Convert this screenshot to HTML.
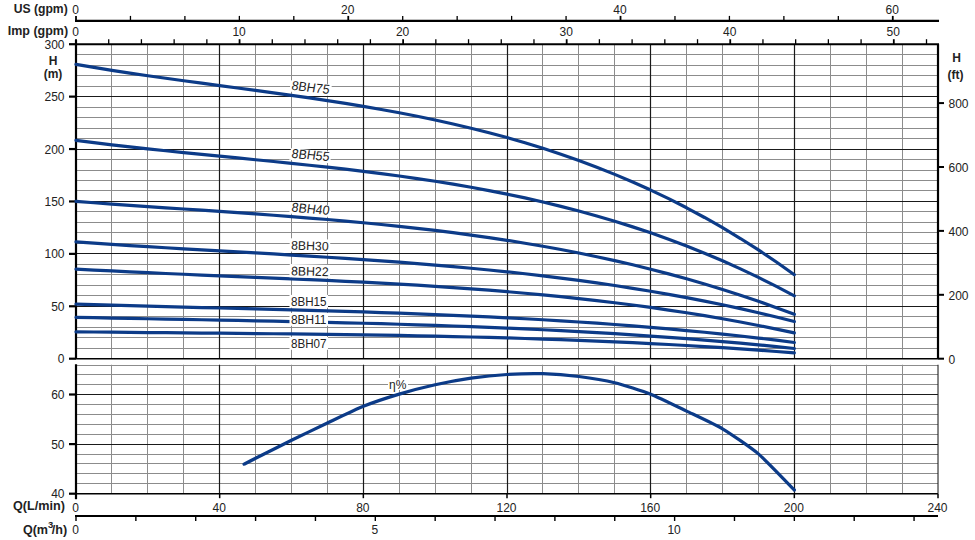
<!DOCTYPE html>
<html><head><meta charset="utf-8"><style>
html,body{margin:0;padding:0;background:#fff;width:975px;height:540px;overflow:hidden}
svg{display:block;font-family:"Liberation Sans", sans-serif}
</style></head><body>
<svg width="975" height="540" viewBox="0 0 975 540">
<rect width="975" height="540" fill="#fff"/>
<line x1="76.0" y1="348.5" x2="938.01" y2="348.5" stroke="#8c8c8c" stroke-width="1"/>
<line x1="76.0" y1="337.5" x2="938.01" y2="337.5" stroke="#8c8c8c" stroke-width="1"/>
<line x1="76.0" y1="327.5" x2="938.01" y2="327.5" stroke="#8c8c8c" stroke-width="1"/>
<line x1="76.0" y1="316.5" x2="938.01" y2="316.5" stroke="#8c8c8c" stroke-width="1"/>
<line x1="76.0" y1="295.5" x2="938.01" y2="295.5" stroke="#8c8c8c" stroke-width="1"/>
<line x1="76.0" y1="285.5" x2="938.01" y2="285.5" stroke="#8c8c8c" stroke-width="1"/>
<line x1="76.0" y1="274.5" x2="938.01" y2="274.5" stroke="#8c8c8c" stroke-width="1"/>
<line x1="76.0" y1="264.5" x2="938.01" y2="264.5" stroke="#8c8c8c" stroke-width="1"/>
<line x1="76.0" y1="243.5" x2="938.01" y2="243.5" stroke="#8c8c8c" stroke-width="1"/>
<line x1="76.0" y1="232.5" x2="938.01" y2="232.5" stroke="#8c8c8c" stroke-width="1"/>
<line x1="76.0" y1="222.5" x2="938.01" y2="222.5" stroke="#8c8c8c" stroke-width="1"/>
<line x1="76.0" y1="211.5" x2="938.01" y2="211.5" stroke="#8c8c8c" stroke-width="1"/>
<line x1="76.0" y1="190.5" x2="938.01" y2="190.5" stroke="#8c8c8c" stroke-width="1"/>
<line x1="76.0" y1="180.5" x2="938.01" y2="180.5" stroke="#8c8c8c" stroke-width="1"/>
<line x1="76.0" y1="170.5" x2="938.01" y2="170.5" stroke="#8c8c8c" stroke-width="1"/>
<line x1="76.0" y1="159.5" x2="938.01" y2="159.5" stroke="#8c8c8c" stroke-width="1"/>
<line x1="76.0" y1="138.5" x2="938.01" y2="138.5" stroke="#8c8c8c" stroke-width="1"/>
<line x1="76.0" y1="128.5" x2="938.01" y2="128.5" stroke="#8c8c8c" stroke-width="1"/>
<line x1="76.0" y1="117.5" x2="938.01" y2="117.5" stroke="#8c8c8c" stroke-width="1"/>
<line x1="76.0" y1="107.5" x2="938.01" y2="107.5" stroke="#8c8c8c" stroke-width="1"/>
<line x1="76.0" y1="86.5" x2="938.01" y2="86.5" stroke="#8c8c8c" stroke-width="1"/>
<line x1="76.0" y1="75.5" x2="938.01" y2="75.5" stroke="#8c8c8c" stroke-width="1"/>
<line x1="76.0" y1="65.5" x2="938.01" y2="65.5" stroke="#8c8c8c" stroke-width="1"/>
<line x1="76.0" y1="54.5" x2="938.01" y2="54.5" stroke="#8c8c8c" stroke-width="1"/>
<line x1="111.5" y1="44.21" x2="111.5" y2="358.7" stroke="#8c8c8c" stroke-width="1"/>
<line x1="111.5" y1="364.74" x2="111.5" y2="493.7" stroke="#8c8c8c" stroke-width="1"/>
<line x1="147.5" y1="44.21" x2="147.5" y2="358.7" stroke="#8c8c8c" stroke-width="1"/>
<line x1="147.5" y1="364.74" x2="147.5" y2="493.7" stroke="#8c8c8c" stroke-width="1"/>
<line x1="183.5" y1="44.21" x2="183.5" y2="358.7" stroke="#8c8c8c" stroke-width="1"/>
<line x1="183.5" y1="364.74" x2="183.5" y2="493.7" stroke="#8c8c8c" stroke-width="1"/>
<line x1="255.5" y1="44.21" x2="255.5" y2="358.7" stroke="#8c8c8c" stroke-width="1"/>
<line x1="255.5" y1="364.74" x2="255.5" y2="493.7" stroke="#8c8c8c" stroke-width="1"/>
<line x1="291.5" y1="44.21" x2="291.5" y2="358.7" stroke="#8c8c8c" stroke-width="1"/>
<line x1="291.5" y1="364.74" x2="291.5" y2="493.7" stroke="#8c8c8c" stroke-width="1"/>
<line x1="327.5" y1="44.21" x2="327.5" y2="358.7" stroke="#8c8c8c" stroke-width="1"/>
<line x1="327.5" y1="364.74" x2="327.5" y2="493.7" stroke="#8c8c8c" stroke-width="1"/>
<line x1="399.5" y1="44.21" x2="399.5" y2="358.7" stroke="#8c8c8c" stroke-width="1"/>
<line x1="399.5" y1="364.74" x2="399.5" y2="493.7" stroke="#8c8c8c" stroke-width="1"/>
<line x1="435.5" y1="44.21" x2="435.5" y2="358.7" stroke="#8c8c8c" stroke-width="1"/>
<line x1="435.5" y1="364.74" x2="435.5" y2="493.7" stroke="#8c8c8c" stroke-width="1"/>
<line x1="471.5" y1="44.21" x2="471.5" y2="358.7" stroke="#8c8c8c" stroke-width="1"/>
<line x1="471.5" y1="364.74" x2="471.5" y2="493.7" stroke="#8c8c8c" stroke-width="1"/>
<line x1="542.5" y1="44.21" x2="542.5" y2="358.7" stroke="#8c8c8c" stroke-width="1"/>
<line x1="542.5" y1="364.74" x2="542.5" y2="493.7" stroke="#8c8c8c" stroke-width="1"/>
<line x1="578.5" y1="44.21" x2="578.5" y2="358.7" stroke="#8c8c8c" stroke-width="1"/>
<line x1="578.5" y1="364.74" x2="578.5" y2="493.7" stroke="#8c8c8c" stroke-width="1"/>
<line x1="614.5" y1="44.21" x2="614.5" y2="358.7" stroke="#8c8c8c" stroke-width="1"/>
<line x1="614.5" y1="364.74" x2="614.5" y2="493.7" stroke="#8c8c8c" stroke-width="1"/>
<line x1="686.5" y1="44.21" x2="686.5" y2="358.7" stroke="#8c8c8c" stroke-width="1"/>
<line x1="686.5" y1="364.74" x2="686.5" y2="493.7" stroke="#8c8c8c" stroke-width="1"/>
<line x1="722.5" y1="44.21" x2="722.5" y2="358.7" stroke="#8c8c8c" stroke-width="1"/>
<line x1="722.5" y1="364.74" x2="722.5" y2="493.7" stroke="#8c8c8c" stroke-width="1"/>
<line x1="758.5" y1="44.21" x2="758.5" y2="358.7" stroke="#8c8c8c" stroke-width="1"/>
<line x1="758.5" y1="364.74" x2="758.5" y2="493.7" stroke="#8c8c8c" stroke-width="1"/>
<line x1="830.5" y1="44.21" x2="830.5" y2="358.7" stroke="#8c8c8c" stroke-width="1"/>
<line x1="830.5" y1="364.74" x2="830.5" y2="493.7" stroke="#8c8c8c" stroke-width="1"/>
<line x1="866.5" y1="44.21" x2="866.5" y2="358.7" stroke="#8c8c8c" stroke-width="1"/>
<line x1="866.5" y1="364.74" x2="866.5" y2="493.7" stroke="#8c8c8c" stroke-width="1"/>
<line x1="902.5" y1="44.21" x2="902.5" y2="358.7" stroke="#8c8c8c" stroke-width="1"/>
<line x1="902.5" y1="364.74" x2="902.5" y2="493.7" stroke="#8c8c8c" stroke-width="1"/>
<line x1="76.0" y1="483.5" x2="938.01" y2="483.5" stroke="#8c8c8c" stroke-width="1"/>
<line x1="76.0" y1="473.5" x2="938.01" y2="473.5" stroke="#8c8c8c" stroke-width="1"/>
<line x1="76.0" y1="463.5" x2="938.01" y2="463.5" stroke="#8c8c8c" stroke-width="1"/>
<line x1="76.0" y1="454.5" x2="938.01" y2="454.5" stroke="#8c8c8c" stroke-width="1"/>
<line x1="76.0" y1="434.5" x2="938.01" y2="434.5" stroke="#8c8c8c" stroke-width="1"/>
<line x1="76.0" y1="424.5" x2="938.01" y2="424.5" stroke="#8c8c8c" stroke-width="1"/>
<line x1="76.0" y1="414.5" x2="938.01" y2="414.5" stroke="#8c8c8c" stroke-width="1"/>
<line x1="76.0" y1="404.5" x2="938.01" y2="404.5" stroke="#8c8c8c" stroke-width="1"/>
<line x1="76.0" y1="384.5" x2="938.01" y2="384.5" stroke="#8c8c8c" stroke-width="1"/>
<line x1="76.0" y1="374.5" x2="938.01" y2="374.5" stroke="#8c8c8c" stroke-width="1"/>
<line x1="76.0" y1="365.5" x2="938.01" y2="365.5" stroke="#8c8c8c" stroke-width="1"/>
<line x1="76.0" y1="306.5" x2="938.01" y2="306.5" stroke="#1a1a1a" stroke-width="1.2"/>
<line x1="76.0" y1="253.5" x2="938.01" y2="253.5" stroke="#1a1a1a" stroke-width="1.2"/>
<line x1="76.0" y1="201.5" x2="938.01" y2="201.5" stroke="#1a1a1a" stroke-width="1.2"/>
<line x1="76.0" y1="149.5" x2="938.01" y2="149.5" stroke="#1a1a1a" stroke-width="1.2"/>
<line x1="76.0" y1="96.5" x2="938.01" y2="96.5" stroke="#1a1a1a" stroke-width="1.2"/>
<line x1="219.5" y1="44.21" x2="219.5" y2="358.7" stroke="#1a1a1a" stroke-width="1.2"/>
<line x1="219.5" y1="364.74" x2="219.5" y2="493.7" stroke="#1a1a1a" stroke-width="1.2"/>
<line x1="363.5" y1="44.21" x2="363.5" y2="358.7" stroke="#1a1a1a" stroke-width="1.2"/>
<line x1="363.5" y1="364.74" x2="363.5" y2="493.7" stroke="#1a1a1a" stroke-width="1.2"/>
<line x1="507.5" y1="44.21" x2="507.5" y2="358.7" stroke="#1a1a1a" stroke-width="1.2"/>
<line x1="507.5" y1="364.74" x2="507.5" y2="493.7" stroke="#1a1a1a" stroke-width="1.2"/>
<line x1="650.5" y1="44.21" x2="650.5" y2="358.7" stroke="#1a1a1a" stroke-width="1.2"/>
<line x1="650.5" y1="364.74" x2="650.5" y2="493.7" stroke="#1a1a1a" stroke-width="1.2"/>
<line x1="794.5" y1="44.21" x2="794.5" y2="358.7" stroke="#1a1a1a" stroke-width="1.2"/>
<line x1="794.5" y1="364.74" x2="794.5" y2="493.7" stroke="#1a1a1a" stroke-width="1.2"/>
<line x1="76.0" y1="444.5" x2="938.01" y2="444.5" stroke="#1a1a1a" stroke-width="1.2"/>
<line x1="76.0" y1="394.5" x2="938.01" y2="394.5" stroke="#1a1a1a" stroke-width="1.2"/>
<line x1="76.0" y1="358.7" x2="938.01" y2="358.7" stroke="#000" stroke-width="1.6"/>
<line x1="76.0" y1="493.7" x2="938.01" y2="493.7" stroke="#000" stroke-width="1.6"/>
<line x1="938.01" y1="364.74" x2="938.01" y2="493.7" stroke="#222" stroke-width="1.1"/>
<line x1="76.0" y1="39.71" x2="76.0" y2="358.7" stroke="#000" stroke-width="2.2"/>
<line x1="938.01" y1="44.21" x2="938.01" y2="358.7" stroke="#000" stroke-width="2.2"/>
<line x1="76.0" y1="44.21" x2="939.01" y2="44.21" stroke="#000" stroke-width="2.1"/>
<line x1="76.0" y1="364.24" x2="76.0" y2="499.2" stroke="#000" stroke-width="2.2"/>
<line x1="69" y1="358.7" x2="76.0" y2="358.7" stroke="#000" stroke-width="2.2"/>
<line x1="69" y1="306.28" x2="76.0" y2="306.28" stroke="#000" stroke-width="2.2"/>
<line x1="69" y1="253.87" x2="76.0" y2="253.87" stroke="#000" stroke-width="2.2"/>
<line x1="69" y1="201.45" x2="76.0" y2="201.45" stroke="#000" stroke-width="2.2"/>
<line x1="69" y1="149.04" x2="76.0" y2="149.04" stroke="#000" stroke-width="2.2"/>
<line x1="69" y1="96.62" x2="76.0" y2="96.62" stroke="#000" stroke-width="2.2"/>
<line x1="69" y1="44.21" x2="76.0" y2="44.21" stroke="#000" stroke-width="2.2"/>
<line x1="69" y1="493.7" x2="76.0" y2="493.7" stroke="#000" stroke-width="2.2"/>
<line x1="69" y1="444.1" x2="76.0" y2="444.1" stroke="#000" stroke-width="2.2"/>
<line x1="69" y1="394.5" x2="76.0" y2="394.5" stroke="#000" stroke-width="2.2"/>
<line x1="938.01" y1="294.8" x2="944.01" y2="294.8" stroke="#000" stroke-width="2"/>
<line x1="938.01" y1="230.89" x2="944.01" y2="230.89" stroke="#000" stroke-width="2"/>
<line x1="938.01" y1="166.99" x2="944.01" y2="166.99" stroke="#000" stroke-width="2"/>
<line x1="938.01" y1="103.08" x2="944.01" y2="103.08" stroke="#000" stroke-width="2"/>
<line x1="938.01" y1="358.7" x2="944.01" y2="358.7" stroke="#000" stroke-width="2"/>
<line x1="75.0" y1="20.9" x2="939.01" y2="20.9" stroke="#000" stroke-width="2.1"/>
<line x1="76" y1="15.9" x2="76" y2="20.9" stroke="#000" stroke-width="1.8"/>
<line x1="130.45" y1="15.9" x2="130.45" y2="20.9" stroke="#000" stroke-width="1.3"/>
<line x1="184.9" y1="15.9" x2="184.9" y2="20.9" stroke="#000" stroke-width="1.3"/>
<line x1="239.36" y1="15.9" x2="239.36" y2="20.9" stroke="#000" stroke-width="1.3"/>
<line x1="293.81" y1="15.9" x2="293.81" y2="20.9" stroke="#000" stroke-width="1.3"/>
<line x1="348.26" y1="15.9" x2="348.26" y2="20.9" stroke="#000" stroke-width="1.8"/>
<line x1="402.71" y1="15.9" x2="402.71" y2="20.9" stroke="#000" stroke-width="1.3"/>
<line x1="457.16" y1="15.9" x2="457.16" y2="20.9" stroke="#000" stroke-width="1.3"/>
<line x1="511.62" y1="15.9" x2="511.62" y2="20.9" stroke="#000" stroke-width="1.3"/>
<line x1="566.07" y1="15.9" x2="566.07" y2="20.9" stroke="#000" stroke-width="1.3"/>
<line x1="620.52" y1="15.9" x2="620.52" y2="20.9" stroke="#000" stroke-width="1.8"/>
<line x1="674.97" y1="15.9" x2="674.97" y2="20.9" stroke="#000" stroke-width="1.3"/>
<line x1="729.42" y1="15.9" x2="729.42" y2="20.9" stroke="#000" stroke-width="1.3"/>
<line x1="783.88" y1="15.9" x2="783.88" y2="20.9" stroke="#000" stroke-width="1.3"/>
<line x1="838.33" y1="15.9" x2="838.33" y2="20.9" stroke="#000" stroke-width="1.3"/>
<line x1="892.78" y1="15.9" x2="892.78" y2="20.9" stroke="#000" stroke-width="1.8"/>
<line x1="76" y1="39.21" x2="76" y2="44.21" stroke="#000" stroke-width="1.8"/>
<line x1="108.71" y1="39.21" x2="108.71" y2="44.21" stroke="#000" stroke-width="1.3"/>
<line x1="141.42" y1="39.21" x2="141.42" y2="44.21" stroke="#000" stroke-width="1.3"/>
<line x1="174.14" y1="39.21" x2="174.14" y2="44.21" stroke="#000" stroke-width="1.3"/>
<line x1="206.85" y1="39.21" x2="206.85" y2="44.21" stroke="#000" stroke-width="1.3"/>
<line x1="239.56" y1="39.21" x2="239.56" y2="44.21" stroke="#000" stroke-width="1.8"/>
<line x1="272.27" y1="39.21" x2="272.27" y2="44.21" stroke="#000" stroke-width="1.3"/>
<line x1="304.98" y1="39.21" x2="304.98" y2="44.21" stroke="#000" stroke-width="1.3"/>
<line x1="337.7" y1="39.21" x2="337.7" y2="44.21" stroke="#000" stroke-width="1.3"/>
<line x1="370.41" y1="39.21" x2="370.41" y2="44.21" stroke="#000" stroke-width="1.3"/>
<line x1="403.12" y1="39.21" x2="403.12" y2="44.21" stroke="#000" stroke-width="1.8"/>
<line x1="435.83" y1="39.21" x2="435.83" y2="44.21" stroke="#000" stroke-width="1.3"/>
<line x1="468.54" y1="39.21" x2="468.54" y2="44.21" stroke="#000" stroke-width="1.3"/>
<line x1="501.26" y1="39.21" x2="501.26" y2="44.21" stroke="#000" stroke-width="1.3"/>
<line x1="533.97" y1="39.21" x2="533.97" y2="44.21" stroke="#000" stroke-width="1.3"/>
<line x1="566.68" y1="39.21" x2="566.68" y2="44.21" stroke="#000" stroke-width="1.8"/>
<line x1="599.39" y1="39.21" x2="599.39" y2="44.21" stroke="#000" stroke-width="1.3"/>
<line x1="632.1" y1="39.21" x2="632.1" y2="44.21" stroke="#000" stroke-width="1.3"/>
<line x1="664.82" y1="39.21" x2="664.82" y2="44.21" stroke="#000" stroke-width="1.3"/>
<line x1="697.53" y1="39.21" x2="697.53" y2="44.21" stroke="#000" stroke-width="1.3"/>
<line x1="730.24" y1="39.21" x2="730.24" y2="44.21" stroke="#000" stroke-width="1.8"/>
<line x1="762.95" y1="39.21" x2="762.95" y2="44.21" stroke="#000" stroke-width="1.3"/>
<line x1="795.66" y1="39.21" x2="795.66" y2="44.21" stroke="#000" stroke-width="1.3"/>
<line x1="828.38" y1="39.21" x2="828.38" y2="44.21" stroke="#000" stroke-width="1.3"/>
<line x1="861.09" y1="39.21" x2="861.09" y2="44.21" stroke="#000" stroke-width="1.3"/>
<line x1="893.8" y1="39.21" x2="893.8" y2="44.21" stroke="#000" stroke-width="1.8"/>
<line x1="926.51" y1="39.21" x2="926.51" y2="44.21" stroke="#000" stroke-width="1.3"/>
<line x1="76" y1="493.7" x2="76" y2="498.2" stroke="#000" stroke-width="1.5"/>
<line x1="219.67" y1="493.7" x2="219.67" y2="498.2" stroke="#000" stroke-width="1.5"/>
<line x1="363.34" y1="493.7" x2="363.34" y2="498.2" stroke="#000" stroke-width="1.5"/>
<line x1="507" y1="493.7" x2="507" y2="498.2" stroke="#000" stroke-width="1.5"/>
<line x1="650.67" y1="493.7" x2="650.67" y2="498.2" stroke="#000" stroke-width="1.5"/>
<line x1="794.34" y1="493.7" x2="794.34" y2="498.2" stroke="#000" stroke-width="1.5"/>
<line x1="938.01" y1="493.7" x2="938.01" y2="498.2" stroke="#000" stroke-width="1.5"/>
<line x1="75.0" y1="516.0" x2="938.01" y2="516.0" stroke="#000" stroke-width="2.1"/>
<line x1="76" y1="516.0" x2="76" y2="521" stroke="#000" stroke-width="1.4"/>
<line x1="135.86" y1="516.0" x2="135.86" y2="521" stroke="#000" stroke-width="1.4"/>
<line x1="195.72" y1="516.0" x2="195.72" y2="521" stroke="#000" stroke-width="1.4"/>
<line x1="255.59" y1="516.0" x2="255.59" y2="521" stroke="#000" stroke-width="1.4"/>
<line x1="315.45" y1="516.0" x2="315.45" y2="521" stroke="#000" stroke-width="1.4"/>
<line x1="375.31" y1="516.0" x2="375.31" y2="521" stroke="#000" stroke-width="1.4"/>
<line x1="435.17" y1="516.0" x2="435.17" y2="521" stroke="#000" stroke-width="1.4"/>
<line x1="495.03" y1="516.0" x2="495.03" y2="521" stroke="#000" stroke-width="1.4"/>
<line x1="554.89" y1="516.0" x2="554.89" y2="521" stroke="#000" stroke-width="1.4"/>
<line x1="614.75" y1="516.0" x2="614.75" y2="521" stroke="#000" stroke-width="1.4"/>
<line x1="674.62" y1="516.0" x2="674.62" y2="521" stroke="#000" stroke-width="1.4"/>
<line x1="734.48" y1="516.0" x2="734.48" y2="521" stroke="#000" stroke-width="1.4"/>
<line x1="794.34" y1="516.0" x2="794.34" y2="521" stroke="#000" stroke-width="1.4"/>
<line x1="854.2" y1="516.0" x2="854.2" y2="521" stroke="#000" stroke-width="1.4"/>
<line x1="914.06" y1="516.0" x2="914.06" y2="521" stroke="#000" stroke-width="1.4"/>
<path d="M76,64.39 L93.96,67.43 L111.92,70.32 L129.88,73.07 L147.83,75.71 L165.79,78.25 L183.75,80.73 L201.71,83.16 L219.67,85.57 L237.63,87.97 L255.59,90.38 L273.54,92.83 L291.5,95.33 L309.46,97.92 L327.42,100.6 L345.38,103.41 L363.34,106.35 L381.29,109.46 L399.25,112.76 L417.21,116.26 L435.17,119.99 L453.13,123.96 L471.09,128.2 L489.05,132.74 L507,137.58 L524.96,142.76 L542.92,148.29 L560.88,154.2 L578.84,160.5 L596.8,167.22 L614.75,174.37 L632.71,181.99 L650.67,190.08 L668.63,198.68 L686.59,207.8 L704.55,217.47 L722.51,227.7 L740.46,238.51 L758.42,249.94 L776.38,261.99 L794.34,274.69" fill="none" stroke="#0c3b88" stroke-width="3.2" stroke-linejoin="round" stroke-linecap="round"/>
<path d="M76,140.3 L93.96,142.61 L111.92,144.79 L129.88,146.87 L147.83,148.85 L165.79,150.76 L183.75,152.61 L201.71,154.41 L219.67,156.19 L237.63,157.95 L255.59,159.72 L273.54,161.51 L291.5,163.34 L309.46,165.22 L327.42,167.17 L345.38,169.21 L363.34,171.35 L381.29,173.61 L399.25,176.01 L417.21,178.55 L435.17,181.27 L453.13,184.17 L471.09,187.26 L489.05,190.58 L507,194.13 L524.96,197.93 L542.92,201.99 L560.88,206.33 L578.84,210.98 L596.8,215.93 L614.75,221.22 L632.71,226.86 L650.67,232.85 L668.63,239.23 L686.59,246.01 L704.55,253.19 L722.51,260.81 L740.46,268.86 L758.42,277.38 L776.38,286.38 L794.34,295.87" fill="none" stroke="#0c3b88" stroke-width="3.2" stroke-linejoin="round" stroke-linecap="round"/>
<path d="M76,201.41 L93.96,202.77 L111.92,204.07 L129.88,205.34 L147.83,206.58 L165.79,207.8 L183.75,209.01 L201.71,210.22 L219.67,211.44 L237.63,212.68 L255.59,213.95 L273.54,215.26 L291.5,216.61 L309.46,218.03 L327.42,219.52 L345.38,221.08 L363.34,222.74 L381.29,224.49 L399.25,226.35 L417.21,228.32 L435.17,230.43 L453.13,232.67 L471.09,235.06 L489.05,237.6 L507,240.32 L524.96,243.21 L542.92,246.28 L560.88,249.55 L578.84,253.03 L596.8,256.72 L614.75,260.64 L632.71,264.79 L650.67,269.19 L668.63,273.84 L686.59,278.76 L704.55,283.95 L722.51,289.43 L740.46,295.2 L758.42,301.27 L776.38,307.66 L794.34,314.37" fill="none" stroke="#0c3b88" stroke-width="3.2" stroke-linejoin="round" stroke-linecap="round"/>
<path d="M76,241.97 L93.96,243.22 L111.92,244.41 L129.88,245.56 L147.83,246.67 L165.79,247.75 L183.75,248.81 L201.71,249.84 L219.67,250.87 L237.63,251.9 L255.59,252.93 L273.54,253.97 L291.5,255.03 L309.46,256.11 L327.42,257.23 L345.38,258.39 L363.34,259.6 L381.29,260.86 L399.25,262.18 L417.21,263.57 L435.17,265.04 L453.13,266.59 L471.09,268.24 L489.05,269.98 L507,271.82 L524.96,273.78 L542.92,275.86 L560.88,278.07 L578.84,280.41 L596.8,282.89 L614.75,285.51 L632.71,288.3 L650.67,291.24 L668.63,294.36 L686.59,297.66 L704.55,301.13 L722.51,304.8 L740.46,308.67 L758.42,312.75 L776.38,317.03 L794.34,321.54" fill="none" stroke="#0c3b88" stroke-width="3.2" stroke-linejoin="round" stroke-linecap="round"/>
<path d="M76,269.08 L93.96,270.05 L111.92,270.97 L129.88,271.84 L147.83,272.68 L165.79,273.49 L183.75,274.27 L201.71,275.04 L219.67,275.8 L237.63,276.55 L255.59,277.3 L273.54,278.06 L291.5,278.84 L309.46,279.63 L327.42,280.46 L345.38,281.32 L363.34,282.22 L381.29,283.16 L399.25,284.16 L417.21,285.22 L435.17,286.35 L453.13,287.55 L471.09,288.83 L489.05,290.2 L507,291.66 L524.96,293.22 L542.92,294.89 L560.88,296.66 L578.84,298.56 L596.8,300.58 L614.75,302.73 L632.71,305.02 L650.67,307.46 L668.63,310.05 L686.59,312.79 L704.55,315.7 L722.51,318.78 L740.46,322.04 L758.42,325.48 L776.38,329.11 L794.34,332.93" fill="none" stroke="#0c3b88" stroke-width="3.2" stroke-linejoin="round" stroke-linecap="round"/>
<path d="M76,304.07 L93.96,304.62 L111.92,305.15 L129.88,305.66 L147.83,306.15 L165.79,306.62 L183.75,307.09 L201.71,307.55 L219.67,308 L237.63,308.46 L255.59,308.92 L273.54,309.39 L291.5,309.87 L309.46,310.36 L327.42,310.87 L345.38,311.41 L363.34,311.97 L381.29,312.56 L399.25,313.18 L417.21,313.84 L435.17,314.53 L453.13,315.28 L471.09,316.07 L489.05,316.91 L507,317.8 L524.96,318.75 L542.92,319.77 L560.88,320.85 L578.84,322 L596.8,323.22 L614.75,324.52 L632.71,325.89 L650.67,327.35 L668.63,328.9 L686.59,330.54 L704.55,332.27 L722.51,334.1 L740.46,336.03 L758.42,338.07 L776.38,340.21 L794.34,342.47" fill="none" stroke="#0c3b88" stroke-width="3.2" stroke-linejoin="round" stroke-linecap="round"/>
<path d="M76,317.28 L93.96,317.66 L111.92,318.03 L129.88,318.39 L147.83,318.74 L165.79,319.08 L183.75,319.42 L201.71,319.76 L219.67,320.1 L237.63,320.44 L255.59,320.8 L273.54,321.16 L291.5,321.54 L309.46,321.93 L327.42,322.35 L345.38,322.78 L363.34,323.24 L381.29,323.72 L399.25,324.24 L417.21,324.79 L435.17,325.37 L453.13,325.99 L471.09,326.65 L489.05,327.35 L507,328.1 L524.96,328.89 L542.92,329.74 L560.88,330.64 L578.84,331.6 L596.8,332.62 L614.75,333.69 L632.71,334.84 L650.67,336.05 L668.63,337.33 L686.59,338.68 L704.55,340.11 L722.51,341.62 L740.46,343.21 L758.42,344.88 L776.38,346.64 L794.34,348.48" fill="none" stroke="#0c3b88" stroke-width="3.2" stroke-linejoin="round" stroke-linecap="round"/>
<path d="M76,331.78 L93.96,331.98 L111.92,332.18 L129.88,332.36 L147.83,332.54 L165.79,332.71 L183.75,332.88 L201.71,333.05 L219.67,333.22 L237.63,333.39 L255.59,333.57 L273.54,333.75 L291.5,333.95 L309.46,334.16 L327.42,334.38 L345.38,334.62 L363.34,334.88 L381.29,335.17 L399.25,335.47 L417.21,335.8 L435.17,336.17 L453.13,336.56 L471.09,336.98 L489.05,337.44 L507,337.94 L524.96,338.48 L542.92,339.06 L560.88,339.69 L578.84,340.36 L596.8,341.08 L614.75,341.85 L632.71,342.68 L650.67,343.56 L668.63,344.51 L686.59,345.51 L704.55,346.57 L722.51,347.7 L740.46,348.9 L758.42,350.17 L776.38,351.5 L794.34,352.92" fill="none" stroke="#0c3b88" stroke-width="3.2" stroke-linejoin="round" stroke-linecap="round"/>
<path d="M244.09,464.2 C245.24,463.61 250.84,460.69 255.59,458.3 C260.33,455.91 284.32,443.83 291.5,440.3 C298.69,436.77 320.24,426.4 327.42,423 C334.6,419.6 356.15,409.19 363.34,406.3 C370.52,403.41 392.07,396.25 399.25,394.1 C406.44,391.95 427.99,386.39 435.17,384.8 C442.35,383.21 463.9,379.23 471.09,378.2 C478.27,377.17 499.82,374.95 507,374.5 C514.19,374.05 535.74,373.5 542.92,373.7 C550.1,373.9 571.65,375.6 578.84,376.5 C586.02,377.4 607.57,380.93 614.75,382.7 C621.94,384.47 643.49,391.36 650.67,394.2 C657.86,397.04 679.41,407.64 686.59,411.1 C693.77,414.56 715.32,424.52 722.51,428.8 C729.69,433.08 751.24,447.78 758.42,453.9 C765.61,460.02 790.75,486.39 794.34,490" fill="none" stroke="#0c3b88" stroke-width="3.2" stroke-linejoin="round" stroke-linecap="round"/>
<g transform="translate(291,89.8) rotate(6.3) skewX(-4)"><rect x="-1.5" y="-9.62" width="41" height="11.62" fill="#fff"/><text x="0" y="0" font-size="13" fill="#222" textLength="38" lengthAdjust="spacingAndGlyphs">8BH75</text></g>
<g transform="translate(291,157.8) rotate(5) skewX(-4)"><rect x="-1.5" y="-9.62" width="41" height="11.62" fill="#fff"/><text x="0" y="0" font-size="13" fill="#222" textLength="38" lengthAdjust="spacingAndGlyphs">8BH55</text></g>
<g transform="translate(291,211.6) rotate(5) skewX(-4)"><rect x="-1.5" y="-9.62" width="41" height="11.62" fill="#fff"/><text x="0" y="0" font-size="13" fill="#222" textLength="38" lengthAdjust="spacingAndGlyphs">8BH40</text></g>
<g transform="translate(291,249.5) rotate(1.8)"><rect x="-1.5" y="-11.25" width="40.5" height="13.25" fill="#fff"/><text x="0" y="0" font-size="12.5" fill="#222" textLength="37.5" lengthAdjust="spacingAndGlyphs">8BH30</text></g>
<g transform="translate(291,275.2) rotate(1.5)"><rect x="-1.5" y="-11.25" width="40.5" height="13.25" fill="#fff"/><text x="0" y="0" font-size="12.5" fill="#222" textLength="37.5" lengthAdjust="spacingAndGlyphs">8BH22</text></g>
<g transform="translate(291,305.7) rotate(0)"><rect x="-1.5" y="-10.8" width="38.5" height="12.8" fill="#fff"/><text x="0" y="0" font-size="12" fill="#222" textLength="35.5" lengthAdjust="spacingAndGlyphs">8BH15</text></g>
<g transform="translate(291,323.8) rotate(0)"><rect x="-1.5" y="-10.8" width="38.5" height="12.8" fill="#fff"/><text x="0" y="0" font-size="12" fill="#222" textLength="35.5" lengthAdjust="spacingAndGlyphs">8BH11</text></g>
<g transform="translate(291,347.8) rotate(0)"><rect x="-1.5" y="-10.8" width="38.5" height="12.8" fill="#fff"/><text x="0" y="0" font-size="12" fill="#222" textLength="35.5" lengthAdjust="spacingAndGlyphs">8BH07</text></g>
<rect x="388" y="378" width="20" height="12" fill="#fff"/><text x="389" y="389" font-size="12" fill="#222">η%</text>
<text x="13.7" y="12.6" text-anchor="start" font-size="12" font-weight="bold" textLength="54" lengthAdjust="spacingAndGlyphs" fill="#222">US (gpm)</text>
<text x="7.8" y="34.9" text-anchor="start" font-size="12" font-weight="bold" textLength="60.3" lengthAdjust="spacingAndGlyphs" fill="#222">Imp (gpm)</text>
<text x="75.5" y="14" text-anchor="middle" font-size="12" fill="#222">0</text>
<text x="347.76" y="14" text-anchor="middle" font-size="12" fill="#222">20</text>
<text x="620.02" y="14" text-anchor="middle" font-size="12" fill="#222">40</text>
<text x="892.28" y="14" text-anchor="middle" font-size="12" fill="#222">60</text>
<text x="75.5" y="35.5" text-anchor="middle" font-size="12" fill="#222">0</text>
<text x="239.06" y="35.5" text-anchor="middle" font-size="12" fill="#222">10</text>
<text x="402.62" y="35.5" text-anchor="middle" font-size="12" fill="#222">20</text>
<text x="566.18" y="35.5" text-anchor="middle" font-size="12" fill="#222">30</text>
<text x="729.74" y="35.5" text-anchor="middle" font-size="12" fill="#222">40</text>
<text x="893.3" y="35.5" text-anchor="middle" font-size="12" fill="#222">50</text>
<text x="64.5" y="363.3" text-anchor="end" font-size="12" fill="#222">0</text>
<text x="64.5" y="310.88" text-anchor="end" font-size="12" fill="#222">50</text>
<text x="64.5" y="258.47" text-anchor="end" font-size="12" fill="#222">100</text>
<text x="64.5" y="206.05" text-anchor="end" font-size="12" fill="#222">150</text>
<text x="64.5" y="153.64" text-anchor="end" font-size="12" fill="#222">200</text>
<text x="64.5" y="101.22" text-anchor="end" font-size="12" fill="#222">250</text>
<text x="64.5" y="48.81" text-anchor="end" font-size="12" fill="#222">300</text>
<text x="53" y="64.5" text-anchor="middle" font-size="12" font-weight="bold" fill="#222">H</text>
<text x="53" y="78" text-anchor="middle" font-size="12" font-weight="bold" fill="#222">(m)</text>
<text x="956.5" y="62" text-anchor="middle" font-size="12" font-weight="bold" fill="#222">H</text>
<text x="955.5" y="79" text-anchor="middle" font-size="12" font-weight="bold" fill="#222">(ft)</text>
<text x="948.5" y="299.8" text-anchor="start" font-size="12" fill="#222">200</text>
<text x="948.5" y="235.89" text-anchor="start" font-size="12" fill="#222">400</text>
<text x="948.5" y="171.99" text-anchor="start" font-size="12" fill="#222">600</text>
<text x="948.5" y="108.08" text-anchor="start" font-size="12" fill="#222">800</text>
<text x="948.5" y="364.3" text-anchor="start" font-size="12" fill="#222">0</text>
<text x="64.5" y="498.3" text-anchor="end" font-size="12" fill="#222">40</text>
<text x="64.5" y="448.7" text-anchor="end" font-size="12" fill="#222">50</text>
<text x="64.5" y="399.1" text-anchor="end" font-size="12" fill="#222">60</text>
<text x="12.9" y="510.3" text-anchor="start" font-size="12" font-weight="bold" textLength="52" lengthAdjust="spacingAndGlyphs" fill="#222">Q(L/min)</text>
<text x="75.5" y="511.5" text-anchor="middle" font-size="12" fill="#222">0</text>
<text x="219.17" y="511.5" text-anchor="middle" font-size="12" fill="#222">40</text>
<text x="362.84" y="511.5" text-anchor="middle" font-size="12" fill="#222">80</text>
<text x="506.5" y="511.5" text-anchor="middle" font-size="12" fill="#222">120</text>
<text x="650.17" y="511.5" text-anchor="middle" font-size="12" fill="#222">160</text>
<text x="793.84" y="511.5" text-anchor="middle" font-size="12" fill="#222">200</text>
<text x="937.51" y="511.5" text-anchor="middle" font-size="12" fill="#222">240</text>
<text x="22.9" y="533.8" text-anchor="start" font-size="12" font-weight="bold" textLength="44.2" lengthAdjust="spacingAndGlyphs" fill="#222">Q(m<tspan font-size="9" dy="-6">3</tspan><tspan dy="6" dx="-1.5">/h)</tspan></text>
<text x="75.5" y="534" text-anchor="middle" font-size="12" fill="#222">0</text>
<text x="374.81" y="534" text-anchor="middle" font-size="12" fill="#222">5</text>
<text x="674.12" y="534" text-anchor="middle" font-size="12" fill="#222">10</text>
</svg></body></html>
